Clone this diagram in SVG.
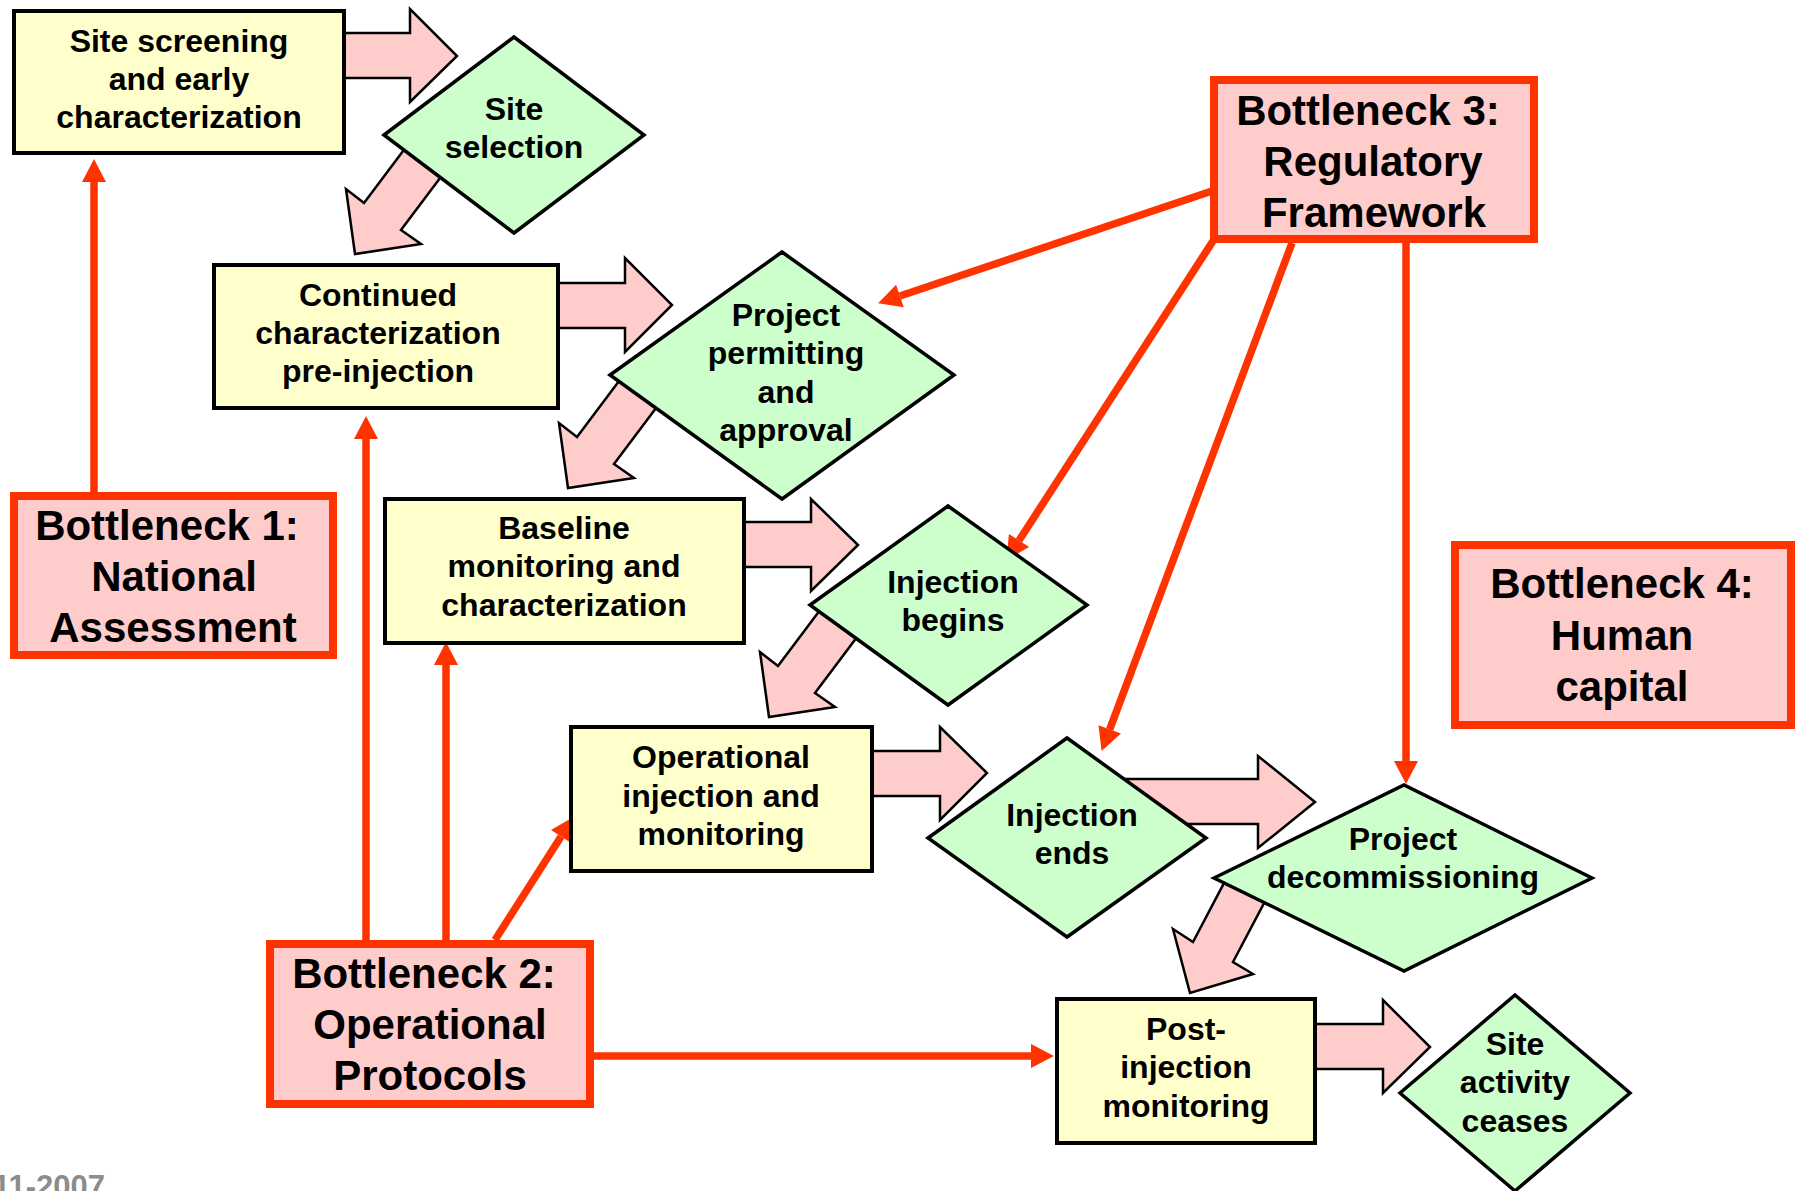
<svg xmlns="http://www.w3.org/2000/svg" width="1796" height="1191" viewBox="0 0 1796 1191">
<style>
.box{fill:#FFFFCC;stroke:#000;stroke-width:4}
.dia{fill:#CCFFCC;stroke:#000;stroke-width:3.5;stroke-linejoin:miter}
.bn{fill:#FFCCCC;stroke:#FF3300;stroke-width:8}
.blk{fill:#FFCCCC;stroke:#000;stroke-width:2.5;stroke-linejoin:miter}
.red{fill:none;stroke:#FF3300;stroke-width:7.5}
text{font-family:"Liberation Sans",Arial,Helvetica,sans-serif;font-weight:bold;fill:#000;text-anchor:middle}
.t{font-size:32px}
.tb{font-size:42px}
.foot{font-size:31px;fill:#8c8c8c;text-anchor:end}
</style>
<defs>
<marker id="ah" markerUnits="userSpaceOnUse" markerWidth="24" markerHeight="26" refX="0" refY="12" orient="auto" viewBox="0 0 24 24" overflow="visible">
<path d="M0,0 L23,12 L0,24 z" fill="#FF3300"/>
</marker>
</defs>
<rect width="1796" height="1191" fill="#fff"/>
<g id="connectors">
<g id="flow-arrows">
<polygon class="blk" points="342,33 410,33 410,9 457,56 410,102 410,78 342,78"/>
<polygon class="blk" points="414.7,135.4 364,203 346,189 355,254 421,244 401,230 451.7,162.4"/>
<polygon class="blk" points="556,283 625,283 625,258 672,305 625,352 625,328 556,328"/>
<polygon class="blk" points="627.7,369.4 577,437 559,423 568,488 634,478 614,464 664.7,396.4"/>
<polygon class="blk" points="742,522 811,522 811,499 858,545 811,591 811,567 742,567"/>
<polygon class="blk" points="828.7,598.4 778,666 760,652 769,717 835,707 815,693 865.7,625.4"/>
<polygon class="blk" points="870,751 940,751 940,727 987,773 940,820 940,796 870,796"/>
<polygon class="blk" points="1110,779 1258,779 1258,756 1315,802 1258,848 1258,824 1110,824"/>
<polygon class="blk" points="1227.5,876.4 1193,942 1173,929 1190,993 1253,974 1233,962 1272,888"/>
<polygon class="blk" points="1313,1024 1383,1024 1383,1000 1430,1047 1383,1093 1383,1069 1313,1069"/>
</g>
<g id="bottleneck-links">
<line class="red" x1="94" y1="492" x2="94" y2="182" marker-end="url(#ah)"/>
<line class="red" x1="366" y1="940" x2="366" y2="439" marker-end="url(#ah)"/>
<line class="red" x1="446" y1="940" x2="446" y2="665" marker-end="url(#ah)"/>
<line class="red" x1="495" y1="940" x2="561.1" y2="836.5" marker-end="url(#ah)"/>
<line class="red" x1="594" y1="1056" x2="1031" y2="1056" marker-end="url(#ah)"/>
<line class="red" x1="1212" y1="191" x2="899.9" y2="296" marker-end="url(#ah)"/>
<line class="red" x1="1213" y1="241" x2="1019" y2="540.5" marker-end="url(#ah)"/>
<line class="red" x1="1292" y1="243" x2="1109.7" y2="729.4" marker-end="url(#ah)"/>
<line class="red" x1="1406" y1="243" x2="1406" y2="761" marker-end="url(#ah)"/>
</g>
</g>
<g id="site-screening">
<rect class="box" x="14" y="11" width="330" height="142"/>
<text class="t" x="179" y="52">Site screening</text>
<text class="t" x="179" y="90">and early</text>
<text class="t" x="179" y="128">characterization</text>
</g>
<g id="site-selection">
<polygon class="dia" points="384,135 514,37 644,135 514,233"/>
<text class="t" x="514" y="120">Site</text>
<text class="t" x="514" y="158">selection</text>
</g>
<g id="continued-characterization">
<rect class="box" x="214" y="265" width="344" height="143"/>
<text class="t" x="378" y="306">Continued</text>
<text class="t" x="378" y="344">characterization</text>
<text class="t" x="378" y="382">pre-injection</text>
</g>
<g id="project-permitting">
<polygon class="dia" points="610,375 782,252 954,375 782,499"/>
<text class="t" x="786" y="326">Project</text>
<text class="t" x="786" y="364">permitting</text>
<text class="t" x="786" y="403">and</text>
<text class="t" x="786" y="441">approval</text>
</g>
<g id="baseline-monitoring">
<rect class="box" x="385" y="499" width="359" height="144"/>
<text class="t" x="564" y="539">Baseline</text>
<text class="t" x="564" y="577">monitoring and</text>
<text class="t" x="564" y="616">characterization</text>
</g>
<g id="injection-begins">
<polygon class="dia" points="810,605 948,506 1087,605 948,705"/>
<text class="t" x="953" y="593">Injection</text>
<text class="t" x="953" y="631">begins</text>
</g>
<g id="operational-injection">
<rect class="box" x="571" y="727" width="301" height="144"/>
<text class="t" x="721" y="768">Operational</text>
<text class="t" x="721" y="807">injection and</text>
<text class="t" x="721" y="845">monitoring</text>
</g>
<g id="injection-ends">
<polygon class="dia" points="928,838 1067,738 1206,838 1067,937"/>
<text class="t" x="1072" y="826">Injection</text>
<text class="t" x="1072" y="864">ends</text>
</g>
<g id="project-decommissioning">
<polygon class="dia" points="1214,878 1404,785 1592,878 1404,971"/>
<text class="t" x="1403" y="850">Project</text>
<text class="t" x="1403" y="888">decommissioning</text>
</g>
<g id="post-injection-monitoring">
<rect class="box" x="1057" y="999" width="258" height="144"/>
<text class="t" x="1186" y="1040">Post-</text>
<text class="t" x="1186" y="1078">injection</text>
<text class="t" x="1186" y="1117">monitoring</text>
</g>
<g id="site-activity-ceases">
<polygon class="dia" points="1400,1093 1515,995 1630,1093 1515,1191"/>
<text class="t" x="1515" y="1055">Site</text>
<text class="t" x="1515" y="1093">activity</text>
<text class="t" x="1515" y="1132">ceases</text>
</g>
<g id="bottleneck-1">
<rect class="bn" x="14" y="496" width="319" height="159"/>
<text class="tb" x="167" y="540">Bottleneck 1:</text>
<text class="tb" x="174" y="591">National</text>
<text class="tb" x="173" y="642">Assessment</text>
</g>
<g id="bottleneck-2">
<rect class="bn" x="270" y="944" width="320" height="160"/>
<text class="tb" x="424" y="988">Bottleneck 2:</text>
<text class="tb" x="430" y="1039">Operational</text>
<text class="tb" x="430" y="1090">Protocols</text>
</g>
<g id="bottleneck-3">
<rect class="bn" x="1214" y="80" width="320" height="159"/>
<text class="tb" x="1368" y="125">Bottleneck 3:</text>
<text class="tb" x="1373" y="176">Regulatory</text>
<text class="tb" x="1374" y="227">Framework</text>
</g>
<g id="bottleneck-4">
<rect class="bn" x="1455" y="545" width="336" height="180"/>
<text class="tb" x="1622" y="598">Bottleneck 4:</text>
<text class="tb" x="1622" y="650">Human</text>
<text class="tb" x="1622" y="701">capital</text>
</g>
<text class="foot" x="105" y="1197">11-2007</text>
</svg>
